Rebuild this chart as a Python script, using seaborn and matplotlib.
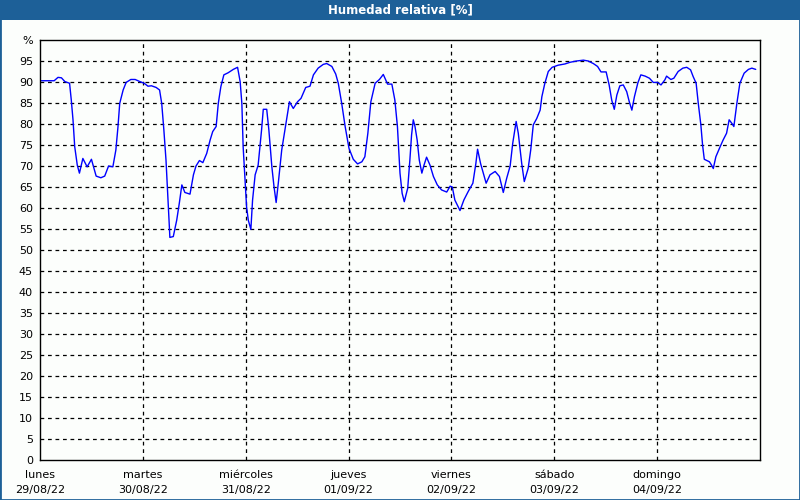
import matplotlib
matplotlib.use("Agg")
import matplotlib.pyplot as plt
import seaborn as sns
import pandas as pd
from matplotlib.patches import Rectangle

# hours since lunes 29/08/22 00:00
horas = [0.3, 3.3, 4.2, 5.0, 5.8, 6.9, 7.3, 7.7, 8.1, 8.7, 9.2, 10.0, 11.0, 12.0, 12.6, 13.1,
         14.2, 15.1, 16.0, 17.0, 17.7, 18.2, 18.6, 19.4, 20.1, 21.2, 22.2, 23.3, 24.3, 25.2,
         26.0, 27.1, 27.9, 28.4, 28.9, 29.4, 29.8, 30.2, 30.3, 31.1, 31.9, 32.5, 33.1, 33.8,
         35.0, 35.8, 36.4, 37.2, 38.0, 38.9, 39.7, 40.3, 41.1, 41.6, 42.2, 42.9, 43.9, 45.1,
         46.1, 46.7, 47.1, 47.4, 47.8, 48.2, 48.6, 49.2, 49.6, 50.2, 50.9, 51.7, 52.1, 52.9,
         53.4, 54.1, 54.6, 55.1, 55.6, 56.4, 57.4, 58.2, 59.1, 60.1, 60.9, 62.0, 63.0, 63.8,
         64.9, 66.1, 66.9, 68.1, 69.0, 69.6, 70.4, 71.2, 72.1, 73.1, 74.1, 75.1, 75.8, 76.5,
         77.2, 78.2, 79.2, 80.1, 81.1, 82.1, 82.8, 83.4, 84.0, 84.5, 85.0, 85.8, 86.3, 86.7,
         87.1, 87.5, 88.0, 88.5, 89.1, 89.6, 90.2, 91.0, 91.8, 92.7, 93.7, 94.9, 95.7, 96.2,
         96.8, 98.0, 98.9, 99.9, 101.0, 101.7, 102.1, 102.8, 104.1, 105.0, 106.2, 107.2,
         108.1, 108.9, 109.7, 110.3, 111.1, 111.6, 112.4, 113.0, 113.9, 114.5, 115.1, 115.9,
         116.7, 117.1, 117.8, 118.6, 119.5, 120.9, 122.5, 123.7, 125.2, 126.8, 127.9, 129.1,
         130.1, 130.9, 132.1, 132.8, 133.4, 134.0, 134.6, 135.3, 136.1, 136.9, 137.5, 138.1,
         138.7, 139.5, 140.2, 141.2, 142.2, 143.1, 144.1, 144.9, 145.8, 146.2, 147.2, 147.9,
         148.9, 150.0, 150.9, 151.8, 152.4, 153.1, 153.6, 154.2, 154.6, 155.0, 156.2, 156.7,
         157.1, 157.7, 158.7, 159.4, 160.2, 160.8, 161.4, 161.9, 162.6, 163.3, 164.3, 165.3,
         166.1, 167.0]
humedad = [90.3, 90.3, 91.1, 91.0, 90.1, 89.7, 85.7, 81.0, 74.6, 70.2, 68.3, 71.8, 69.8, 71.6,
           69.4, 67.6, 67.2, 67.6, 70.0, 69.8, 73.8, 79.4, 84.9, 88.1, 89.9, 90.6, 90.6, 90.1,
           89.7, 89.0, 89.1, 88.7, 88.1, 84.9, 78.6, 71.4, 63.5, 55.2, 53.0, 53.2, 57.1, 61.1,
           65.5, 63.7, 63.3, 67.9, 70.0, 71.3, 70.8, 73.0, 76.2, 78.2, 79.4, 84.9, 88.9, 91.7,
           92.2, 93.0, 93.5, 90.1, 84.9, 74.6, 67.5, 60.3, 57.1, 54.9, 61.9, 67.9, 70.2, 78.6,
           83.5, 83.5, 78.6, 69.8, 65.1, 61.3, 65.9, 73.8, 80.2, 85.3, 83.7, 85.3, 86.1, 88.7,
           89.0, 91.7, 93.3, 94.2, 94.4, 93.7, 91.9, 89.7, 84.9, 79.4, 74.2, 71.6, 70.5, 71.0,
           72.2, 77.8, 85.3, 89.7, 90.6, 91.8, 89.5, 89.5, 85.7, 79.4, 68.3, 63.5, 61.5, 64.7,
           71.4, 77.4, 81.0, 79.4, 76.2, 71.4, 68.3, 70.2, 72.1, 70.2, 67.5, 65.5, 64.3, 63.8,
           65.2, 65.0, 61.9, 59.4, 61.9, 63.9, 65.9, 70.6, 74.0, 70.6, 65.9, 67.9, 68.7, 67.5,
           63.7, 67.1, 70.0, 75.4, 80.6, 77.8, 70.6, 66.3, 69.4, 73.8, 79.8, 81.3, 83.3, 86.5,
           89.7, 92.5, 93.5, 94.0, 94.3, 94.7, 95.0, 95.2, 95.0, 94.4, 93.7, 92.4, 92.4, 89.3,
           85.7, 83.5, 86.9, 89.1, 89.3, 87.7, 85.3, 83.3, 86.5, 89.8, 91.7, 91.4, 90.9, 89.9,
           89.9, 89.3, 90.5, 91.4, 90.6, 90.9, 92.5, 93.3, 93.5, 92.9, 91.3, 89.7, 84.9, 79.8,
           75.0, 71.6, 71.0, 70.2, 69.4, 72.2, 74.6, 76.2, 77.8, 81.0, 80.2, 79.4, 84.9, 89.7,
           92.1, 93.0, 93.3, 93.0]

dias = ["lunes\n29/08/22", "martes\n30/08/22", "miércoles\n31/08/22", "jueves\n01/09/22",
        "viernes\n02/09/22", "sábado\n03/09/22", "domingo\n04/09/22"]
yticks = list(range(0, 100, 5))

df = pd.DataFrame({"hora": horas, "humedad": humedad})

sns.set_style("white")
plt.rcParams["font.family"] = ["DejaVu Sans"]

bg = "#FCFEFC"
azul = "#1D6098"

fig = plt.figure(figsize=(8, 5), dpi=100, facecolor=bg)
ax = fig.add_axes([0.05, 0.08, 0.90, 0.84])
ax.set_facecolor(bg)

sns.lineplot(data=df, x="hora", y="humedad", color="#0000FF", linewidth=1, ax=ax)

ax.set_xlim(0, 168)
ax.set_ylim(0, 100)
ax.set_xticks([24 * i for i in range(len(dias))])
ax.set_xticklabels(dias, fontsize=8, linespacing=1.6)
ax.set_yticks(yticks + [100])
ax.set_yticklabels([str(v) for v in yticks] + ["%"], fontsize=8)
ax.set_xlabel("")
ax.set_ylabel("")
ax.tick_params(axis="both", direction="out", length=3, width=1, color="black",
               labelcolor="black", pad=2)
ax.tick_params(axis="x", pad=4)

for v in yticks[1:]:
    ax.axhline(v, color="black", lw=0.9, linestyle=(0, (3, 3)), zorder=0)
for d in range(1, len(dias)):
    ax.axvline(24 * d, color="black", lw=0.9, linestyle=(0, (3, 3)), zorder=0)

for s in ax.spines.values():
    s.set_visible(True)
    s.set_color("black")
    s.set_linewidth(1)

# title bar and frame
fig.patches.append(Rectangle((0, 0.96), 1, 0.04, transform=fig.transFigure,
                             facecolor=azul, edgecolor="none", zorder=0))
fig.patches.append(Rectangle((0, 0), 1, 1, transform=fig.transFigure,
                             fill=False, edgecolor=azul, lw=2, zorder=1))
fig.text(0.5, 0.98, "Humedad relativa [%]", color="white", fontsize=8.5,
         fontweight="bold", ha="center", va="center")

fig.savefig("out.png", dpi=100, facecolor=bg)
